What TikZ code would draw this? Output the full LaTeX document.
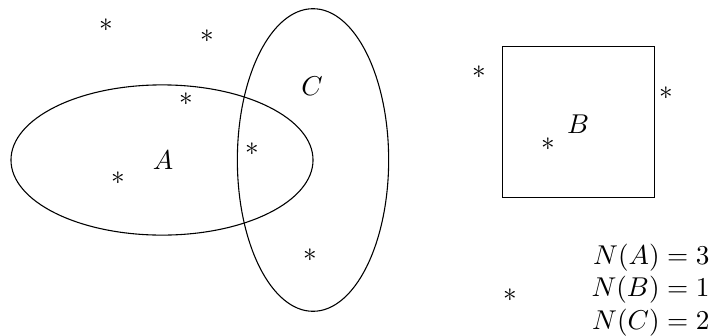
\documentclass[tikz,border=0pt]{standalone}
\begin{document}
\begin{tikzpicture}[x=0.3675pt,y=-0.3675pt,
  pt/.style={inner sep=0pt,font=\normalsize},
  lbl/.style={inner sep=0pt},
  cnt/.style={inner sep=0pt,anchor=base east}]
\useasboundingbox (0,0) rectangle (713,335);
% sets
\draw (162,160) ellipse [x radius=55.5pt, y radius=27.6pt];
\draw (313,160) ellipse [x radius=27.8pt, y radius=55.6pt];
\draw (502.7,46.7) rectangle (654.3,197.7);
% labels
\node[lbl] (la) at (163,160) {$A$};
\node[lbl] (lc) at (312,86) {$C$};
\node[lbl] (lb) at (578,124) {$B$};
% points
\node[pt] (p1) at (106,25) {$\ast$};
\node[pt] (p2) at (207,36) {$\ast$};
\node[pt] (p3) at (186,99) {$\ast$};
\node[pt] (p4) at (252,149) {$\ast$};
\node[pt] (p5) at (118,178) {$\ast$};
\node[pt] (p6) at (310,255) {$\ast$};
\node[pt] (p7) at (479,72) {$\ast$};
\node[pt] (p8) at (666,93) {$\ast$};
\node[pt] (p9) at (548,144) {$\ast$};
\node[pt] (p10) at (510,295) {$\ast$};
% counts
\node[cnt] (na) at (710,264) {$N(A)=3$};
\node[cnt] (nb) at (710,296.5) {$N(B)=1$};
\node[cnt] (nc) at (710,329) {$N(C)=2$};
\end{tikzpicture}
\end{document}
